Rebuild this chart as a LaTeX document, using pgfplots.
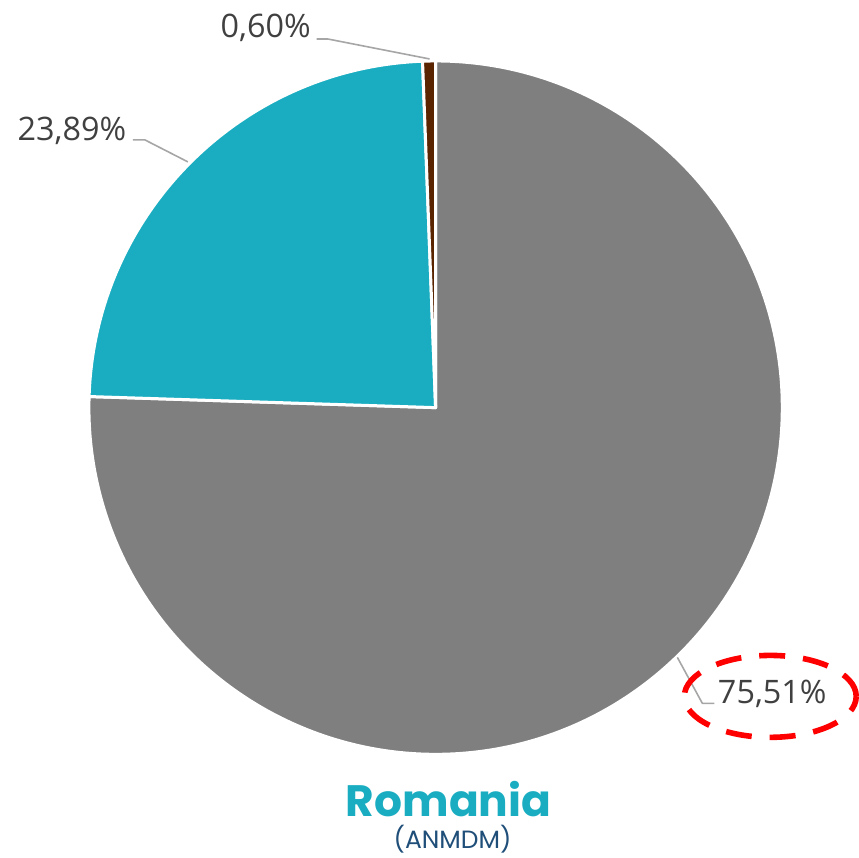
\documentclass[border=0pt]{standalone}
\usepackage{pgfplots}
\pgfplotsset{compat=1.18}
\usepackage{pgfplotstable}
\usepackage{fontspec}
\setmainfont{Open Sans}
\newfontfamily\titlefont{Poppins}
\definecolor{cgray}{HTML}{7F7F7F}
\definecolor{cteal}{HTML}{1AADC1}
\definecolor{cbrown}{HTML}{5A2400}
\definecolor{cnavy}{HTML}{1F4E79}
\definecolor{ctext}{HTML}{404040}
\definecolor{cline}{HTML}{A6A6A6}
\definecolor{cred}{HTML}{FF0000}

\pgfplotstableread{
share
75.51
23.89
0.60
}\piedata

\begin{document}
\begin{tikzpicture}
\pgfplotstablegetelem{0}{share}\of\piedata \let\va\pgfplotsretval
\pgfplotstablegetelem{1}{share}\of\piedata \let\vb\pgfplotsretval
\pgfplotstablegetelem{2}{share}\of\piedata \let\vc\pgfplotsretval
\pgfmathsetmacro{\aA}{90-3.6*\va}
\pgfmathsetmacro{\aB}{\aA-3.6*\vb}
\pgfmathsetmacro{\aC}{\aB-3.6*\vc}
\def\R{173.5pt}
\begin{axis}[scale only axis, width=429.5pt, height=429pt,
  xmin=0, xmax=859, ymin=0, ymax=858, y dir=reverse,
  hide axis, clip=false, enlargelimits=false]
\path (axis cs:0,0) (axis cs:859,858);
% slices
\filldraw[fill=cgray, draw=white, line width=1.5pt, line join=round]
  (axis cs:436,408) -- +(90:\R) arc[start angle=90, end angle=\aA, radius=\R] -- cycle;
\filldraw[fill=cteal, draw=white, line width=1.5pt, line join=round]
  (axis cs:436,408) -- +(\aA:\R) arc[start angle=\aA, end angle=\aB, radius=\R] -- cycle;
\filldraw[fill=cbrown, draw=white, line width=1.5pt, line join=round]
  (axis cs:436,408) -- +(\aB:\R) arc[start angle=\aB, end angle=\aC, radius=\R] -- cycle;
% leader lines
\draw[cline, line width=0.8pt] (axis cs:317,39) -- (axis cs:328,39) -- (axis cs:430,59);
\draw[cline, line width=0.8pt] (axis cs:133,140) -- (axis cs:145,140) -- (axis cs:188,162);
\draw[cline, line width=0.8pt] (axis cs:715,704) -- (axis cs:703,704) -- (axis cs:678,658);
% labels
\node[ctext, font=\fontsize{16.2}{16}\selectfont] at (axis cs:266,28) {0,60\%};
\node[ctext, font=\fontsize{16.2}{16}\selectfont] at (axis cs:72,131) {23,89\%};
\node[ctext, font=\fontsize{16.2}{16}\selectfont] at (axis cs:773,694) {75,51\%};
% highlight ellipse
\draw[cred, line width=2.8pt, dash pattern=on 13pt off 9pt]
  (axis cs:771,697) ellipse [x radius=43pt, y radius=20.5pt];
% title
\node[cteal, inner sep=0pt, font=\titlefont\bfseries\fontsize{22}{22}\selectfont] at (axis cs:449,800) {Romania};
\node[cnavy, inner sep=0pt, font=\titlefont\fontsize{12.5}{12.5}\selectfont] at (axis cs:453,840) {(ANMDM)};
\end{axis}
\end{tikzpicture}
\end{document}
